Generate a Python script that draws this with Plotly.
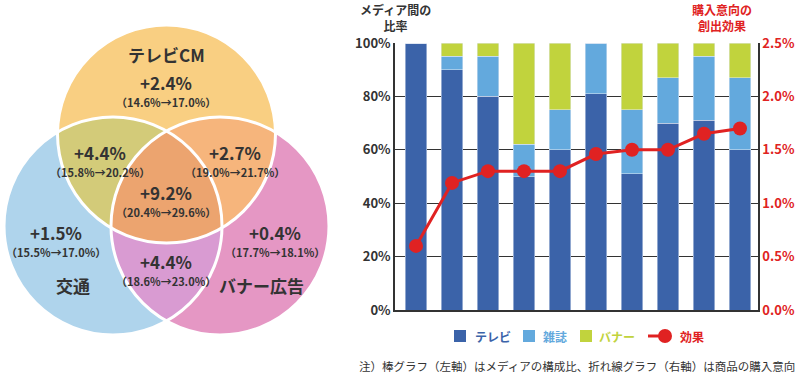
import numpy as np
import plotly.graph_objects as go

# ---------------- data ----------------
categories = ["1", "2", "3", "4", "5", "6", "7", "8", "9", "10"]
tv = [100, 90, 80, 50, 60, 81, 51, 70, 71, 60]
magazine = [0, 5, 15, 12, 15, 19, 24, 17, 24, 27]
banner = [0, 5, 5, 38, 25, 0, 25, 13, 5, 13]
effect = [0.60, 1.19, 1.30, 1.30, 1.30, 1.46, 1.50, 1.50, 1.65, 1.70]

left_ticks = [0, 20, 40, 60, 80, 100]
right_ticks = [0.0, 0.5, 1.0, 1.5, 2.0, 2.5]
series_names = ["テレビ", "雑誌", "バナー", "効果"]

venn_names = ["テレビCM", "交通", "バナー広告"]
venn_lift = ["+2.4%", "+4.4%", "+2.7%", "+9.2%", "+1.5%", "+0.4%", "+4.4%"]
venn_range = ["（14.6%→17.0%）", "（15.8%→20.2%）", "（19.0%→21.7%）", "（20.4%→29.6%）",
              "（15.5%→17.0%）", "（17.7%→18.1%）", "（18.6%→23.0%）"]

# ---------------- styles ----------------
FONT = "Noto Sans CJK JP"
C_TV, C_MAG, C_BAN, C_RED = "#3b63a9", "#63a9dd", "#c1d33d", "#e02222"
DARK = "#333333"
series_colors = [C_TV, C_MAG, C_BAN, C_RED]

fig = go.Figure()
for vals, col, nm in zip([tv, magazine, banner], series_colors[:3], series_names[:3]):
    fig.add_trace(go.Bar(x=categories, y=vals, marker_color=col, width=0.61, name=nm,
                         showlegend=False))
fig.add_trace(go.Scatter(x=categories, y=effect, yaxis="y2", mode="lines+markers",
                         line=dict(color=C_RED, width=3), marker=dict(size=14, color=C_RED),
                         name=series_names[3], showlegend=False))

# ---------------- venn geometry (pixel units) ----------------
R = 109
centers = [(166.5, 134), (113, 226), (220, 226)]
fills = {"A": "#f9cf82", "B": "#afd4ec", "C": "#e597c4",
         "AB": "#d3cb79", "AC": "#f6b57c", "BC": "#d99bd2", "ABC": "#eca46f"}


def region_path(idx):
    pts = []
    t = np.linspace(0, 2 * np.pi, 1441)
    for i in idx:
        cx, cy = centers[i]
        x = cx + R * np.cos(t)
        y = cy + R * np.sin(t)
        mask = np.ones_like(x, dtype=bool)
        for j in idx:
            if j != i:
                mask &= (x - centers[j][0]) ** 2 + (y - centers[j][1]) ** 2 <= R ** 2 + 1e-6
        pts += list(zip(x[mask], y[mask]))
    pts = np.array(pts)
    c = pts.mean(axis=0)
    pts = pts[np.argsort(np.arctan2(pts[:, 1] - c[1], pts[:, 0] - c[0]))]
    return "M " + " L ".join(f"{px:.2f},{py:.2f}" for px, py in pts) + " Z"


shapes = []
for key, i in (("A", 0), ("B", 1), ("C", 2)):
    cx, cy = centers[i]
    shapes.append(dict(type="circle", xref="x3", yref="y3", x0=cx - R, x1=cx + R,
                       y0=cy - R, y1=cy + R, fillcolor=fills[key], line=dict(width=0)))
for key, idx in (("AB", [0, 1]), ("AC", [0, 2]), ("BC", [1, 2]), ("ABC", [0, 1, 2])):
    shapes.append(dict(type="path", xref="x3", yref="y3", path=region_path(idx),
                       fillcolor=fills[key], line=dict(width=0)))
for cx, cy in centers:
    shapes.append(dict(type="circle", xref="x3", yref="y3", x0=cx - R, x1=cx + R,
                       y0=cy - R, y1=cy + R, fillcolor="rgba(0,0,0,0)",
                       line=dict(color="white", width=3)))

annotations = []
label_pos = [(166, 82), (100, 152), (235, 152), (166, 192), (56, 232), (275, 232), (166, 261)]
for (lx, ly), lift, rng in zip(label_pos, venn_lift, venn_range):
    annotations.append(dict(x=lx, y=ly, xref="x3", yref="y3", text=lift, showarrow=False,
                            font=dict(family=FONT, size=17, color=DARK, weight="bold")))
    annotations.append(dict(x=lx, y=ly + 19.5, xref="x3", yref="y3", text=rng, showarrow=False,
                            font=dict(family=FONT, size=11, color=DARK, weight="bold")))
for (lx, ly), name in zip([(166, 54), (73, 285), (261, 285)], venn_names):
    annotations.append(dict(x=lx, y=ly, xref="x3", yref="y3", text=name, showarrow=False,
                            font=dict(family=FONT, size=17, color=DARK, weight="bold")))


def px(xp):
    return xp / 800


def py(yp):
    return 1 - yp / 380


# axis titles
annotations.append(dict(x=px(395), y=py(17), xref="paper", yref="paper", yanchor="middle",
                        text="メディア間の<br>比率", showarrow=False, align="center",
                        font=dict(family=FONT, size=12, color=DARK, weight="bold")))
annotations.append(dict(x=px(754), y=py(17), xref="paper", yref="paper", yanchor="middle",
                        text="購入意向の<br>創出効果", showarrow=False, align="center",
                        font=dict(family=FONT, size=12, color=C_RED, weight="bold")))
# footnote
annotations.append(dict(x=px(797), y=py(366), xref="paper", yref="paper",
                        xanchor="right", yanchor="middle",
                        text="注）棒グラフ（左軸）はメディアの構成比、折れ線グラフ（右軸）は商品の購入意向",
                        showarrow=False, font=dict(family=FONT, size=11.5, color=DARK)))

# custom legend (symbols + coloured labels)
LEG_Y = 336
for sx, tx, col, nm in zip([454, 523, 580], [473, 541, 597], series_colors[:3], series_names[:3]):
    shapes.append(dict(type="rect", xref="paper", yref="paper", x0=px(sx), x1=px(sx + 12),
                       y0=py(LEG_Y - 6), y1=py(LEG_Y + 6), fillcolor=col, line=dict(width=0)))
    annotations.append(dict(x=px(tx), y=py(LEG_Y), xref="paper", yref="paper", xanchor="left",
                            yanchor="middle", text=nm, showarrow=False,
                            font=dict(family=FONT, size=12, color=col, weight="bold")))
shapes.append(dict(type="line", xref="paper", yref="paper", x0=px(648), x1=px(668),
                   y0=py(LEG_Y), y1=py(LEG_Y), line=dict(color=C_RED, width=3)))
shapes.append(dict(type="circle", xref="paper", yref="paper", x0=px(658), x1=px(672),
                   y0=py(LEG_Y - 7), y1=py(LEG_Y + 7), fillcolor=C_RED, line=dict(width=0)))
annotations.append(dict(x=px(678), y=py(LEG_Y), xref="paper", yref="paper", xanchor="left",
                        yanchor="middle", text=series_names[3], showarrow=False,
                        font=dict(family=FONT, size=12, color=C_RED, weight="bold")))

fig.update_layout(
    width=800, height=380,
    margin=dict(l=0, r=0, t=0, b=0, autoexpand=False),
    paper_bgcolor="white", plot_bgcolor="white",
    barmode="stack",
    font=dict(family=FONT, color=DARK),
    showlegend=False,
    xaxis=dict(domain=[px(395), px(758)], showticklabels=False, ticks="",
               showgrid=False, showline=True, linecolor=DARK, linewidth=1.5,
               range=[-0.583, 9.5], fixedrange=True, zeroline=False, automargin=False),
    yaxis=dict(domain=[py(310), py(43)], range=[0, 100], tickvals=left_ticks,
               ticktext=[f"{v}%" for v in left_ticks], showgrid=True, gridcolor=DARK,
               gridwidth=1, showline=True, linecolor=DARK, linewidth=1.5, zeroline=False,
               tickfont=dict(family=FONT, size=13, color=DARK, weight="bold"), ticks="",
               automargin=False),
    yaxis2=dict(overlaying="y", side="right", anchor="x", range=[0, 2.5],
                tickvals=right_ticks, ticktext=[f"{v:.1f}%" for v in right_ticks],
                showgrid=False, showline=True, linecolor=DARK, linewidth=1.5, zeroline=False,
                tickfont=dict(family=FONT, size=13, color=C_RED, weight="bold"), ticks="",
                automargin=False),
    xaxis3=dict(domain=[0, px(340)], range=[0, 340], anchor="y3", visible=False,
                fixedrange=True, automargin=False),
    yaxis3=dict(domain=[0, 1], range=[380, 0], anchor="x3", visible=False, fixedrange=True,
                automargin=False),
    shapes=shapes,
    annotations=annotations,
)

fig.write_html("out.html", config={"displayModeBar": False},
               post_script="document.body.style.margin='0px';document.body.style.overflow='hidden';")
